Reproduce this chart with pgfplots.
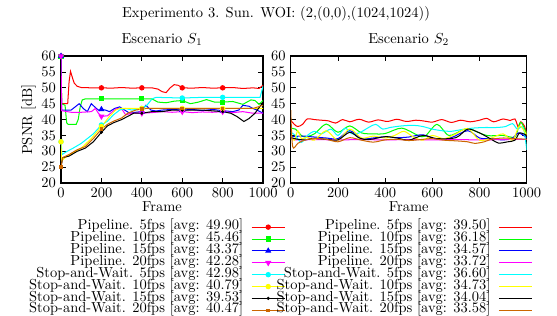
\documentclass[border=0pt]{standalone}
\usepackage{pgfplots}
\pgfplotsset{compat=1.18}
\definecolor{cR}{rgb}{1,0,0}
\definecolor{cG}{rgb}{0,1,0}
\definecolor{cB}{rgb}{0,0,1}
\definecolor{cM}{rgb}{1,0,1}
\definecolor{cC}{rgb}{0,1,1}
\definecolor{cY}{rgb}{1,1,0}
\definecolor{cK}{rgb}{0,0,0}
\definecolor{cO}{rgb}{0.8,0.4,0}
\begin{document}
\begin{tikzpicture}
\useasboundingbox (0,0) rectangle (384.3pt,217.4pt);
\pgfplotsset{
  myaxis/.style={
    scale only axis, height=87.6pt, ymin=20, ymax=60, xmin=0, xmax=1000,
    ytick={20,25,...,60}, xtick={0,200,...,1000},
    xticklabel style={/pgf/number format/1000 sep={}},
    tick align=inside, tick pos=both, major tick length=3.5pt,
    axis line style={line width=0.9pt},
    every tick/.style={black,line width=0.6pt},
    xlabel={Frame}, anchor=south west,
    xlabel style={yshift=4pt},
    title style={yshift=-2pt},
    legend plot pos=right, legend cell align=right,
    legend style={draw=none, fill=none, inner sep=0pt, row sep=0pt,
      nodes={inner sep=0.5pt, text height=5.4pt, text depth=1.8pt},
      /tikz/every odd column/.append style={column sep=5pt}},
    every axis plot/.append style={line width=0.7pt},
    legend image code/.code={\draw[mark repeat=2,mark phase=2] plot coordinates {(0pt,0pt) (11.5pt,0pt) (23pt,0pt)};},
  },
  mk/.style={only marks, legend image post style={sharp plot}},
}
\node at (190.4pt,207.7pt) {Experimento 3. Sun. WOI: (2,(0,0),(1024,1024))};

% ---------------- Scenario S1 ----------------
\begin{axis}[myaxis, at={(42.1pt,91.1pt)}, width=139.4pt,
  title={Escenario $S_1$}, ylabel={PSNR [dB]}, ylabel style={yshift=-3pt},
  legend style={at={(1.112,-0.298)}, anchor=north east}]
\addplot[cR, forget plot] coordinates {(0,60) (3,45) (33,45) (40,52) (47,55.2) (55,53.5) (65,51.5) (80,50.5) (100,50.1) (150,50) (200,50) (250,49.9) (300,50.1) (350,49.9) (400,50) (450,50) (480,49.6) (500,48.8) (520,48.5) (540,50) (560,51) (580,50.8) (600,50) (650,49.9) (700,50.1) (750,49.9) (800,50) (850,50.1) (900,49.8) (950,50) (980,49.8) (1000,50.8)};
\addplot[cR, mk, mark=*, mark size=1.5pt] coordinates {(0,60) (200,50) (400,50) (600,50) (800,50)};
\addlegendentry{Pipeline. 5fps [avg: 49.90]}
\addplot[cG, forget plot] coordinates {(0,60) (3,45) (20,44.5) (28,39) (35,38.5) (75,38.5) (85,40) (95,44) (105,46.2) (120,46.5) (200,46.5) (300,46.5) (400,46.5) (450,46.5) (480,45.5) (520,45.3) (560,45.8) (600,46) (640,45) (680,45.5) (720,46.3) (760,45.5) (800,45.5) (850,45.7) (900,44.8) (940,46.2) (960,46) (980,44.8) (1000,46)};
\addplot[cG, mk, mark=square*, mark size=1.4pt] coordinates {(0,60) (200,46.5) (400,46.5) (600,46) (800,45.5)};
\addlegendentry{Pipeline. 10fps [avg: 45.46]}
\addplot[cB, forget plot] coordinates {(0,60) (3,43) (50,43) (70,44) (90,45) (110,43.5) (130,42.5) (150,45) (175,43.5) (190,42.8) (200,43.2) (220,43) (240,42.5) (265,43.5) (290,44) (315,43) (340,42) (370,42.3) (395,42.5) (420,44.5) (445,43) (470,42.7) (500,43) (550,43.2) (600,43) (650,43.2) (700,42.8) (750,43.2) (800,42.8) (850,42.5) (880,43) (900,44.5) (930,44.2) (950,43.5) (970,43) (1000,42)};
\addplot[cB, mk, mark=triangle*, mark size=1.8pt] coordinates {(0,60) (200,43.2) (400,42.5) (600,43) (800,42.8)};
\addlegendentry{Pipeline. 15fps [avg: 43.37]}
\addplot[cM, forget plot] coordinates {(0,60) (3,42.8) (50,42.3) (100,42.3) (150,42.5) (170,43.5) (185,42) (200,41) (230,41.2) (255,42.5) (275,43.5) (300,43.4) (320,41.5) (350,42) (400,42) (450,42.2) (500,42.5) (550,42.3) (600,42.5) (650,42.2) (700,42.4) (750,42.3) (800,42.5) (850,42.2) (900,42.5) (950,42) (1000,42)};
\addplot[cM, mk, mark=triangle*, mark options={rotate=180}, mark size=1.8pt] coordinates {(0,60) (200,41) (400,42) (600,42.5) (800,42.5)};
\addlegendentry{Pipeline. 20fps [avg: 42.28]}
\addplot[cC, forget plot] coordinates {(0,33) (5,29) (30,30) (60,31) (100,32.5) (130,34) (160,35.5) (200,38.3) (230,39.5) (260,41.5) (290,43) (320,43.5) (350,43) (400,43.5) (425,44.5) (450,46.5) (470,47) (600,46.8) (700,47) (800,47) (900,47) (985,47) (1000,50.5)};
\addplot[cC, mk, mark=*, mark size=1.5pt] coordinates {(0,33) (200,38.3) (400,43.5) (600,46.8) (800,47)};
\addlegendentry{Stop-and-Wait. 5fps [avg: 42.98]}
\addplot[cY, forget plot] coordinates {(0,33) (3,27) (20,28) (60,29.5) (100,31) (150,34) (200,37.8) (240,41) (270,43) (290,43.5) (500,43.5) (800,43.5) (1000,43.5)};
\addplot[cY, mk, mark=*, mark size=1.5pt] coordinates {(0,33) (200,37.8) (400,43.5) (600,43.5) (800,43.5)};
\addlegendentry{Stop-and-Wait. 10fps [avg: 40.79]}
\addplot[cK, forget plot] coordinates {(0,25) (8,28) (40,28.5) (80,30) (120,31) (160,33) (200,36) (230,38) (260,39) (300,40) (330,41) (360,42) (400,42) (450,42.5) (500,42.5) (550,43) (700,43) (800,42.5) (840,42) (870,41) (905,39.4) (930,40.3) (960,42) (1000,45.5)};
\addplot[cK, mk, mark=*, mark size=0.7pt] coordinates {(0,25) (200,36) (400,42) (600,43) (800,42.5)};
\addlegendentry{Stop-and-Wait. 15fps [avg: 39.53]}
\addplot[cO, forget plot] coordinates {(0,25) (8,28) (40,29) (80,30.5) (120,31.5) (160,34) (200,37) (230,38.5) (260,39.5) (300,40.5) (330,42) (370,43) (420,43.5) (600,43.5) (800,43.5) (950,43.5) (1000,44.5)};
\addplot[cO, mk, mark=square*, mark size=0.9pt] coordinates {(0,25) (200,37) (400,43.4) (600,43.5) (800,43.5)};
\addlegendentry{Stop-and-Wait. 20fps [avg: 40.47]}
\end{axis}

% ---------------- Scenario S2 ----------------
\begin{axis}[myaxis, at={(200.6pt,91.1pt)}, width=162.8pt,
  title={Escenario $S_2$},
  legend style={at={(1.027,-0.298)}, anchor=north east},
  every axis plot/.append style={smooth, tension=0.5}]
\addplot[cR] coordinates {(0,39.8) (15,38.5) (30,37.8) (50,38.5) (70,40.2) (100,40) (130,39.8) (160,39.6) (190,38.9) (220,40) (250,39.3) (290,40.1) (330,39.2) (370,39.9) (410,39.4) (450,40.1) (490,39.4) (530,39.8) (560,39.6) (600,39.2) (640,40) (680,39.1) (720,39.8) (760,39.3) (800,39.8) (830,40.4) (860,39.3) (900,40.2) (930,39.7) (950,40.2) (965,37.5) (975,39.3) (990,38) (1000,35.5)};
\addlegendentry{Pipeline. 5fps [avg: 39.50]}
\addplot[cG] coordinates {(0,37.2) (20,37) (54,34.6) (100,35.5) (150,38.6) (200,36) (250,38) (300,35.8) (350,35.5) (400,35.6) (470,37.3) (540,35) (570,34.8) (620,38.5) (670,35) (730,36.8) (760,37) (830,35) (900,35) (950,34.5) (968,38.5) (978,39) (1000,35.5)};
\addlegendentry{Pipeline. 10fps [avg: 36.18]}
\addplot[cB] coordinates {(0,34.6) (50,34.8) (100,34.5) (150,34.2) (200,34) (250,36.5) (300,34) (350,34.2) (400,34.6) (450,34.3) (500,34.5) (560,35.2) (620,33.8) (680,34.3) (750,36.5) (800,34.2) (850,34) (900,33.6) (940,34.2) (965,35.8) (1000,34.3)};
\addlegendentry{Pipeline. 15fps [avg: 34.57]}
\addplot[cM] coordinates {(0,34.5) (20,33.6) (100,33.7) (200,33.6) (300,33.7) (400,33.6) (500,33.7) (600,33.6) (700,33.7) (800,33.6) (900,33.7) (1000,33.8)};
\addlegendentry{Pipeline. 20fps [avg: 33.72]}
\addplot[cC] coordinates {(0,36) (20,35) (45,32.8) (70,35) (100,36.3) (130,35.5) (170,37) (200,35) (230,37.3) (260,35.5) (290,35.8) (330,37.5) (360,38.5) (390,37) (420,37.5) (470,38) (520,38.2) (560,37.8) (600,37) (640,36.5) (680,36.3) (720,36.8) (770,37.3) (820,37.5) (870,37.5) (910,37.8) (940,38.7) (960,37) (985,37.5) (1000,30.5)};
\addlegendentry{Stop-and-Wait. 5fps [avg: 36.60]}
\addplot[cY] coordinates {(0,35) (15,33.5) (30,36.5) (45,34) (70,34.5) (100,33.5) (150,36.5) (200,33.5) (250,37) (300,34.2) (350,34.8) (400,34.2) (440,35) (480,36.3) (520,34.5) (560,33.5) (600,35) (650,34) (700,35.5) (750,37.2) (800,33.5) (850,34.2) (900,35.5) (940,33.5) (970,38) (1000,35)};
\addlegendentry{Stop-and-Wait. 10fps [avg: 34.73]}
\addplot[cK] coordinates {(0,34.3) (30,33.8) (60,33.6) (100,34.1) (150,33.8) (200,33.6) (250,36) (290,34.2) (330,33.7) (400,34.6) (450,34.2) (500,33.5) (560,35) (620,34) (700,34.3) (750,37) (800,35.8) (850,33.8) (880,32.6) (920,33) (950,33.5) (970,35.8) (1000,35)};
\addlegendentry{Stop-and-Wait. 15fps [avg: 34.04]}
\addplot[cO] coordinates {(0,43) (8,31.5) (30,32.5) (60,33.6) (100,34) (150,33.8) (200,33) (250,34.3) (300,33.5) (350,32.9) (400,33.6) (450,33.8) (500,33.4) (550,33.7) (600,34) (650,33.5) (700,33.3) (750,33) (780,32.5) (820,33) (850,33.8) (900,34.2) (950,34) (1000,33.8)};
\addlegendentry{Stop-and-Wait. 20fps [avg: 33.58]}
\end{axis}
\end{tikzpicture}
\end{document}
